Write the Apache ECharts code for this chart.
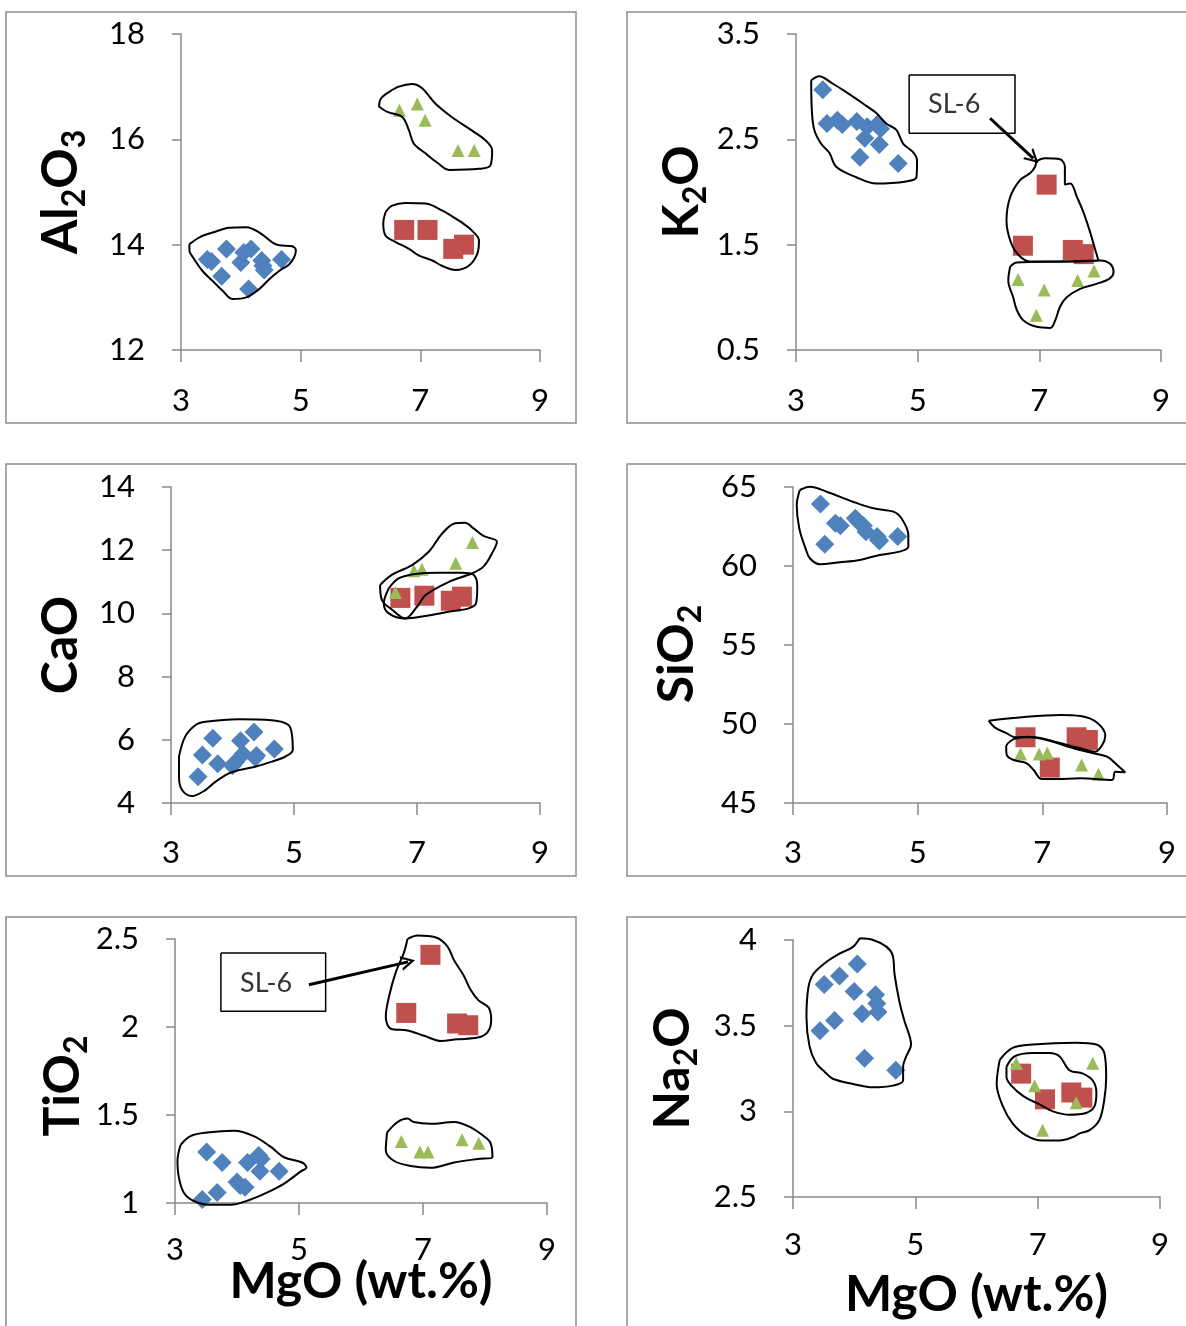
<!DOCTYPE html>
<html><head><meta charset="utf-8">
<script src="https://cdn.jsdelivr.net/npm/echarts@6/dist/echarts.min.js"></script>
<style>html,body{margin:0;padding:0;background:#fff}#c{width:1186px;height:1326px}</style>
</head><body><div id="c"></div>
<script>
// ---------- DATA ----------
const mgoTicks = [3, 5, 7, 9];
const mgoBlue  = [3.44, 3.51, 3.68, 3.76, 4.00, 4.05, 4.13, 4.17, 4.35, 4.37, 4.39, 4.68];
const mgoRed   = [6.73, 7.12, 7.55, 7.73];
const mgoGreen = [6.65, 6.95, 7.08, 7.63, 7.90];

const al2o3Ticks = [12, 14, 16, 18];
const al2o3Blue  = [13.72, 13.68, 13.40, 13.92, 13.66, 13.85, 13.16, 13.92, 13.70, 13.60, 13.52, 13.72];
const al2o3Red   = [14.28, 14.28, 13.92, 14.00];
const al2o3Green = [16.55, 16.67, 16.36, 15.79, 15.79];

const k2oTicks = [0.5, 1.5, 2.5, 3.5];
const k2oBlue  = [2.97, 2.65, 2.68, 2.64, 2.67, 2.33, 2.51, 2.62, 2.65, 2.45, 2.60, 2.27];
const k2oRed   = [1.49, 2.07, 1.45, 1.41];
const k2oGreen = [1.17, 0.83, 1.07, 1.16, 1.25];

const caoTicks = [4, 6, 8, 10, 12, 14];
const caoBlue  = [4.83, 5.52, 6.05, 5.24, 5.18, 5.30, 5.97, 5.55, 6.25, 5.44, 5.50, 5.71];
const caoRed   = [10.49, 10.56, 10.40, 10.53];
const caoGreen = [10.66, 11.35, 11.40, 11.59, 12.24];

const sio2Ticks = [45, 50, 55, 60, 65];
const sio2Blue  = [63.92, 61.37, 62.70, 62.55, 63.02, 62.80, 62.55, 62.17, 61.86, 61.65, 61.60, 61.86];
const sio2Red   = [49.16, 47.24, 49.16, 48.99];
const sio2Green = [48.10, 48.10, 48.16, 47.41, 46.82];

const tio2Ticks = [1, 1.5, 2, 2.5];
const tio2Blue  = [1.02, 1.29, 1.06, 1.23, 1.12, 1.10, 1.09, 1.23, 1.27, 1.18, 1.25, 1.18];
const tio2Red   = [2.08, 2.41, 2.02, 2.01];
const tio2Green = [1.35, 1.29, 1.29, 1.36, 1.34];

const na2oTicks = [2.5, 3, 3.5, 4];
const na2oBlue  = [3.47, 3.74, 3.53, 3.79, 3.70, 3.86, 3.57, 3.31, 3.68, 3.63, 3.58, 3.24];
const na2oRed   = [3.22, 3.07, 3.11, 3.08];
const na2oGreen = [3.28, 3.15, 2.89, 3.05, 3.28];

// hand-drawn group outlines (data units: MgO, oxide)
const outAl2o3Blue = [[3.14,14.01],[3.31,14.14],[3.53,14.23],[3.81,14.32],[4.09,14.33],[4.31,14.23],[4.53,14.04],[4.64,13.99],[4.86,13.97],[4.92,13.89],[4.89,13.76],[4.81,13.63],[4.64,13.50],[4.48,13.35],[4.31,13.16],[4.09,13.0],[3.86,12.97],[3.70,13.12],[3.53,13.31],[3.36,13.50],[3.20,13.76],[3.14,13.89]];
const outAl2o3Green = [[6.31,16.62],[6.34,16.77],[6.48,16.90],[6.64,17.0],[6.86,17.05],[7.03,16.97],[7.25,16.68],[7.53,16.42],[7.86,16.17],[8.09,15.98],[8.20,15.79],[8.17,15.50],[7.98,15.44],[7.48,15.42],[7.28,15.56],[7.09,15.73],[6.89,15.92],[6.81,16.17],[6.70,16.42],[6.45,16.52]];
const outAl2o3Red = [[6.42,14.62],[6.53,14.74],[6.75,14.79],[7.09,14.78],[7.36,14.65],[7.64,14.46],[7.73,14.39],[7.86,14.27],[7.98,14.08],[7.95,13.82],[7.81,13.60],[7.59,13.52],[7.36,13.60],[7.20,13.70],[6.98,13.79],[6.81,13.92],[6.59,14.05],[6.42,14.17],[6.38,14.40]];

const outK2oBlue = [[3.25,3.06],[3.38,3.10],[3.60,3.03],[3.82,2.95],[4.10,2.84],[4.32,2.75],[4.48,2.65],[4.65,2.59],[4.76,2.46],[4.92,2.38],[4.99,2.30],[4.98,2.14],[4.81,2.10],[4.32,2.08],[3.99,2.14],[3.66,2.24],[3.55,2.37],[3.41,2.46],[3.30,2.59],[3.26,2.78]];
const outK2oRed = [[6.95,2.29],[7.09,2.32],[7.34,2.31],[7.42,2.24],[7.42,2.07],[7.51,2.08],[7.62,1.95],[7.73,1.80],[7.84,1.61],[7.92,1.45],[7.97,1.35],[7.40,1.34],[6.85,1.34],[6.68,1.39],[6.54,1.51],[6.46,1.73],[6.52,1.95],[6.68,2.11],[6.85,2.18],[6.93,2.24]];
const outK2oGreen = [[6.52,1.29],[6.63,1.33],[7.40,1.34],[8.0,1.35],[8.16,1.32],[8.22,1.24],[8.16,1.18],[7.95,1.13],[7.67,1.08],[7.45,1.0],[7.34,0.91],[7.26,0.78],[7.18,0.71],[6.96,0.72],[6.74,0.78],[6.63,0.88],[6.57,1.0],[6.49,1.16]];

const outCaoBlue = [[3.13,5.47],[3.23,6.10],[3.40,6.47],[3.56,6.57],[4.10,6.65],[4.64,6.62],[4.91,6.47],[4.97,6.10],[4.98,5.68],[4.86,5.47],[4.64,5.31],[4.37,5.15],[4.10,5.04],[3.94,4.94],[3.72,4.67],[3.56,4.41],[3.34,4.22],[3.18,4.41],[3.13,4.83]];
const outCaoGreen = [[6.40,10.90],[6.59,11.22],[6.92,11.53],[7.19,11.95],[7.41,12.53],[7.62,12.85],[7.78,12.87],[7.92,12.69],[8.08,12.45],[8.30,12.27],[8.22,11.90],[8.08,11.48],[7.90,11.27],[7.52,11.0],[7.14,10.58],[7.00,10.21],[6.81,9.84],[6.60,10.11],[6.43,10.42]];
const outCaoRed = [[6.54,10.79],[6.70,11.11],[6.97,11.25],[7.35,11.29],[7.73,11.29],[7.92,11.22],[7.98,10.85],[7.96,10.32],[7.84,10.16],[7.51,10.05],[7.14,9.92],[6.81,9.84],[6.54,10.0],[6.46,10.32]];

const outSio2Blue = [[3.11,64.81],[3.27,65.02],[3.54,64.70],[3.96,64.07],[4.29,63.65],[4.61,63.44],[4.74,63.02],[4.85,61.96],[4.85,61.22],[4.71,60.91],[4.39,60.70],[4.07,60.38],[3.75,60.23],[3.43,60.11],[3.27,60.49],[3.20,61.12],[3.10,62.39],[3.06,63.86]];
const outSio2Red = [[6.14,50.21],[6.75,50.46],[7.29,50.57],[7.61,50.50],[7.87,50.11],[8.01,49.26],[7.96,48.67],[7.85,48.25],[7.61,48.46],[7.23,48.84],[6.86,49.16],[6.56,49.16],[6.43,49.41],[6.24,49.77]];
const outSio2Green = [[6.54,49.05],[6.75,49.20],[7.07,48.99],[7.50,48.46],[7.82,48.15],[8.04,47.93],[8.20,47.41],[8.33,46.94],[8.17,46.98],[8.12,46.46],[7.61,46.56],[7.23,46.52],[6.99,46.52],[6.86,47.09],[6.75,47.51],[6.54,47.72],[6.43,48.04],[6.42,48.56]];

const outTio2Red = [[6.75,2.50],[6.91,2.52],[7.20,2.51],[7.39,2.46],[7.50,2.38],[7.66,2.29],[7.77,2.21],[7.90,2.15],[8.06,2.11],[8.10,2.04],[8.04,1.97],[7.88,1.94],[7.55,1.93],[7.29,1.92],[7.02,1.95],[6.75,1.98],[6.48,1.99],[6.40,2.06],[6.45,2.17],[6.56,2.31],[6.69,2.42]];
const outTio2Green = [[6.42,1.40],[6.59,1.46],[6.75,1.48],[6.85,1.46],[7.12,1.45],[7.50,1.46],[7.77,1.43],[7.98,1.38],[8.09,1.34],[8.12,1.26],[7.88,1.25],[7.50,1.23],[7.12,1.20],[6.80,1.21],[6.53,1.24],[6.40,1.30]];
const outTio2Blue = [[3.09,1.33],[3.25,1.38],[3.52,1.40],[3.95,1.41],[4.27,1.38],[4.54,1.32],[4.76,1.26],[5.05,1.23],[5.12,1.20],[5.03,1.18],[4.76,1.11],[4.49,1.06],[4.22,1.02],[3.90,0.99],[3.57,0.99],[3.31,1.01],[3.14,1.06],[3.06,1.15],[3.04,1.24]];

const outNa2oBlue = [[4.09,4.01],[4.31,4.0],[4.53,3.96],[4.63,3.91],[4.66,3.80],[4.74,3.64],[4.82,3.53],[4.93,3.39],[4.85,3.32],[4.80,3.26],[4.80,3.18],[4.63,3.15],[4.31,3.14],[3.98,3.16],[3.65,3.19],[3.52,3.23],[3.38,3.28],[3.27,3.38],[3.22,3.55],[3.25,3.72],[3.33,3.80],[3.54,3.87],[3.76,3.92],[3.98,3.96]];
const outNa2oOuter = [[6.38,3.30],[6.59,3.37],[6.92,3.39],[7.63,3.40],[7.96,3.39],[8.09,3.34],[8.12,3.20],[8.09,3.07],[8.01,2.95],[7.85,2.89],[7.68,2.87],[7.58,2.85],[7.36,2.83],[7.08,2.83],[6.81,2.86],[6.59,2.93],[6.43,3.03],[6.33,3.16]];
const outNa2oInner = [[6.49,3.26],[6.62,3.32],[6.92,3.34],[7.19,3.34],[7.36,3.32],[7.52,3.24],[7.74,3.22],[7.90,3.18],[7.96,3.11],[7.93,3.03],[7.79,2.99],[7.52,2.98],[7.25,3.0],[7.03,3.04],[6.76,3.09],[6.57,3.15],[6.49,3.20]];

// SL-6 annotations (data units)
const slLabel = 'SL-6';
const k2oBox = [[4.86,3.11],[6.60,2.557]];
const k2oText = [5.60, 2.83];
const k2oArrow = [[6.19,2.70],[6.90,2.32]];
const tio2Box = [[3.74,2.42],[5.43,2.09]];
const tio2Text = [4.47, 2.25];
const tio2Arrow = [[5.16,2.24],[6.76,2.37]];

// ---------- LAYOUT ----------
const FONT = 'Lato';
const BLUE = '#4F81BD', RED = '#C0504D', GREEN = '#9BBB59', AXIS = '#898989';
const panels = [
  {grid:{left:181,top:34,width:359,height:316}, ticks:al2o3Ticks, name:'{b|Al}{s|2}{b|O}{s|3}', nameGap:90, namePad:[0,0,0,0], xMargin:35},
  {grid:{left:796,top:34,width:365,height:316}, ticks:k2oTicks, name:'{b|K}{s|2}{b|O}', nameGap:84, namePad:[0,0,0,0], xMargin:35},
  {grid:{left:171,top:487,width:369,height:316}, ticks:caoTicks, name:'{b|CaO}', nameGap:80, namePad:[0,0,0,0], xMargin:34},
  {grid:{left:793,top:487,width:374,height:316}, ticks:sio2Ticks, name:'{b|SiO}{s|2}', nameGap:86, namePad:[0,18,0,0], xMargin:34},
  {grid:{left:175,top:939,width:372,height:264}, ticks:tio2Ticks, name:'{b|TiO}{s|2}', nameGap:82, namePad:[0,30,0,0], xMargin:31, xName:true, xNameGap:49},
  {grid:{left:793,top:940,width:367,height:260}, ticks:na2oTicks, name:'{b|Na}{s|2}{b|O}', nameGap:90, namePad:[0,0,0,0], xMargin:32, xName:true, xNameGap:68}
];
const frames = [[6,12,570,411],[627,12,600,411],[6,464,570,412],[627,464,600,412],[6,917,570,450],[627,917,600,450]];

const richName = {
  b:{fontFamily:FONT, fontSize:50, fontWeight:'bold', color:'#000', lineHeight:60},
  s:{fontFamily:FONT, fontSize:32, fontWeight:'bold', color:'#000', lineHeight:30, verticalAlign:'bottom'}
};

const grids = [], xAxes = [], yAxes = [];
panels.forEach((p, i) => {
  grids.push(Object.assign({containLabel:false}, p.grid));
  const yt = p.ticks;
  xAxes.push({
    type:'value', gridIndex:i, min:mgoTicks[0], max:mgoTicks[mgoTicks.length-1], interval:2,
    splitLine:{show:false},
    axisLine:{show:true, onZero:false, lineStyle:{color:AXIS, width:1.5}},
    axisTick:{show:true, length:12, lineStyle:{color:AXIS, width:1.5}, customValues:mgoTicks},
    axisLabel:{fontFamily:FONT, fontSize:31, color:'#000', margin:p.xMargin, customValues:mgoTicks},
    name: p.xName ? 'MgO (wt.%)' : '', nameLocation:'middle', nameGap:p.xNameGap || 0, nameMoveOverlap:false,
    nameTextStyle:{fontFamily:FONT, fontSize:50, fontWeight:'bold', color:'#000', lineHeight:60}
  });
  yAxes.push({
    type:'value', gridIndex:i, min:yt[0], max:yt[yt.length-1], interval:yt[1]-yt[0],
    splitLine:{show:false},
    axisLine:{show:true, onZero:false, lineStyle:{color:AXIS, width:1.5}},
    axisTick:{show:true, length:9, lineStyle:{color:AXIS, width:1.5}, customValues:yt},
    axisLabel:{fontFamily:FONT, fontSize:31, color:'#000', margin:36, customValues:yt},
    name:p.name, nameLocation:'middle', nameGap:p.nameGap, nameMoveOverlap:false,
    nameTextStyle:{rich:richName, padding:p.namePad}
  });
});

const zip = (xs, ys) => xs.map((x, k) => [x, ys[k]]);
function pts(i, ys, xs, symbol, size, color) {
  return {type:'scatter', xAxisIndex:i, yAxisIndex:i, data:zip(xs, ys), symbol:symbol, symbolSize:size,
    itemStyle:{color:color, opacity:1}, z:2, silent:true};
}
function outline(i, p) {
  return {type:'line', xAxisIndex:i, yAxisIndex:i, data:p.concat([p[0]]), smooth:0.35, symbol:'none',
    clip:false, lineStyle:{color:'#000', width:2}, z:3, silent:true};
}
function groupSeries(i, blue, red, green) {
  return [
    pts(i, blue, mgoBlue, 'diamond', 19, BLUE),
    pts(i, red, mgoRed, 'rect', 20, RED),
    pts(i, green, mgoGreen, 'triangle', 13, GREEN)
  ];
}
function annot(i, box, text, arrow) {
  const [[x0, y0], [x1, y1]] = box;
  return [
    {type:'line', xAxisIndex:i, yAxisIndex:i, data:[[x0,y0],[x1,y0],[x1,y1],[x0,y1],[x0,y0]],
     symbol:'none', clip:false, lineStyle:{color:'#000', width:1.5}, z:4, silent:true,
     markLine:{silent:true, symbol:['none','path://M0,12 L6,0 L12,12 L10,12 L6,4 L2,12 Z'], symbolSize:[15,14],
       lineStyle:{color:'#000', width:3, type:'solid'}, label:{show:false},
       data:[[{coord:arrow[0]},{coord:arrow[1]}]]}},
    {type:'scatter', xAxisIndex:i, yAxisIndex:i, data:[text], symbol:'circle', symbolSize:1,
     itemStyle:{color:'rgba(0,0,0,0)'}, z:5, silent:true,
     label:{show:true, position:'inside', formatter:slLabel, fontFamily:FONT, fontSize:27, color:'#000'}}
  ];
}

const series = [].concat(
  groupSeries(0, al2o3Blue, al2o3Red, al2o3Green),
  [outline(0, outAl2o3Blue), outline(0, outAl2o3Green), outline(0, outAl2o3Red)],
  groupSeries(1, k2oBlue, k2oRed, k2oGreen),
  [outline(1, outK2oBlue), outline(1, outK2oRed), outline(1, outK2oGreen)],
  annot(1, k2oBox, k2oText, k2oArrow),
  groupSeries(2, caoBlue, caoRed, caoGreen),
  [outline(2, outCaoBlue), outline(2, outCaoGreen), outline(2, outCaoRed)],
  groupSeries(3, sio2Blue, sio2Red, sio2Green),
  [outline(3, outSio2Blue), outline(3, outSio2Red), outline(3, outSio2Green)],
  groupSeries(4, tio2Blue, tio2Red, tio2Green),
  [outline(4, outTio2Red), outline(4, outTio2Green), outline(4, outTio2Blue)],
  annot(4, tio2Box, tio2Text, tio2Arrow),
  groupSeries(5, na2oBlue, na2oRed, na2oGreen),
  [outline(5, outNa2oBlue), outline(5, outNa2oOuter), outline(5, outNa2oInner)]
);

const chart = echarts.init(document.getElementById('c'), null, {renderer:'canvas'});
chart.setOption({
  animation:false,
  backgroundColor:'#fff',
  grid:grids, xAxis:xAxes, yAxis:yAxes, series:series,
  graphic: frames.map(f => ({type:'rect', shape:{x:f[0], y:f[1], width:f[2], height:f[3]},
    style:{fill:'none', stroke:'#8c8c8c', lineWidth:1.5}, silent:true, z:-1}))
});
</script></body></html>
